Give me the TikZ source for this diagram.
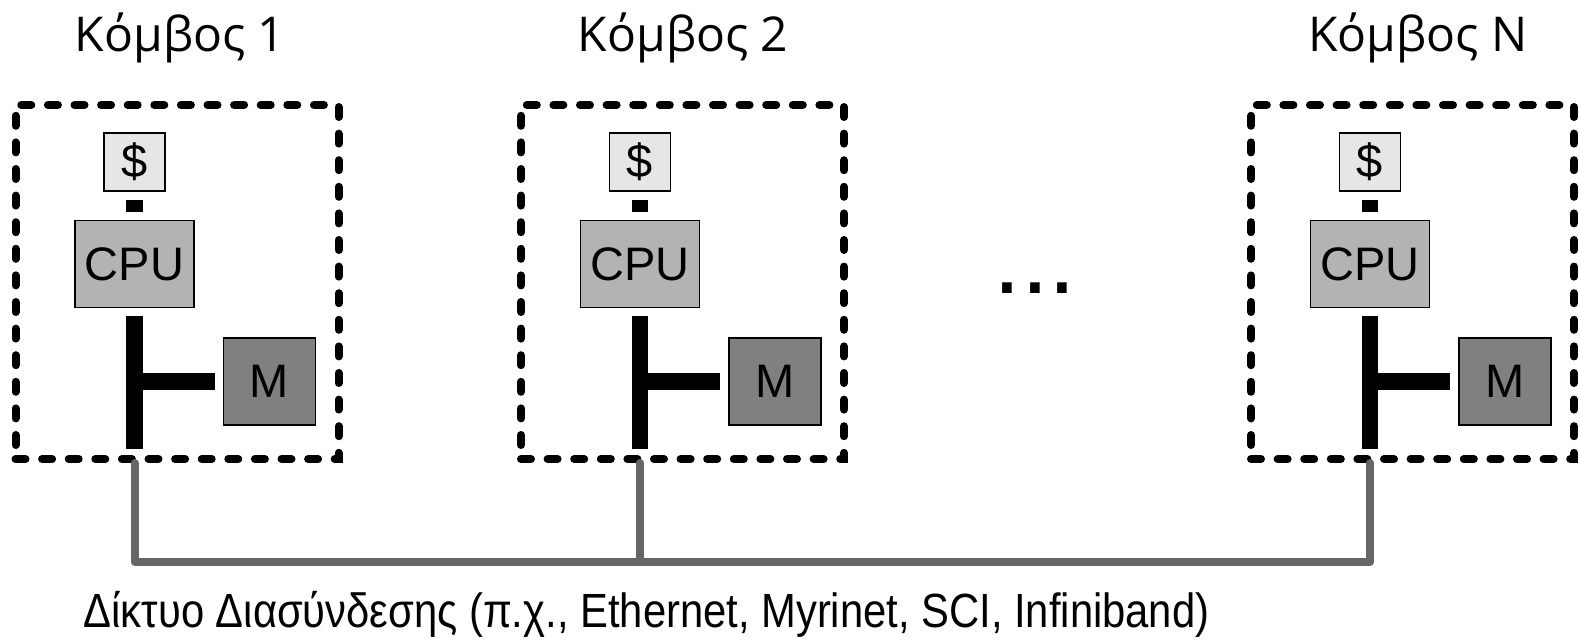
\documentclass[tikz,border=0pt]{standalone}
\usepackage{fontspec}
\setmainfont{Liberation Sans}
\newfontfamily\titlefont{Open Sans}
\newfontfamily\netfont[FakeStretch=0.87]{Liberation Sans}
\usetikzlibrary{positioning}

\definecolor{cachegray}{HTML}{E6E6E6}
\definecolor{cpugray}{HTML}{B3B3B3}
\definecolor{memgray}{HTML}{808080}
\definecolor{netgray}{HTML}{666666}

\tikzset{
  unit/.style={draw=black,line width=0.7pt,inner sep=0pt,
    font=\fontsize{23.5}{23.5}\selectfont},
  cachebox/.style={unit,fill=cachegray,minimum width=30.5pt,minimum height=29pt},
  cpubox/.style={unit,fill=cpugray,minimum width=59.5pt,minimum height=43.5pt},
  membox/.style={unit,fill=memgray,minimum width=46pt,minimum height=43.5pt},
  nodebox/.style={draw,line width=4pt,line cap=round,
    dash pattern=on 5pt off 8.3pt,minimum width=161.5pt,minimum height=177pt,inner sep=0pt},
  title/.style={font=\titlefont\fontsize{24}{24}\selectfont,anchor=base},
  bus/.style={line width=8.3pt},
  net/.style={draw=netgray,line width=4pt,line join=round,line cap=round},
}

\begin{document}
\begin{tikzpicture}[x=0.5pt,y=-0.5pt]
  \useasboundingbox (0,0) rectangle (1580,643);
  % one box per node
  \foreach \cx/\tx/\k/\lbl in {134.5/180/1/1,640/683/2/2,1370/1418/3/N}{
    \node[nodebox] (box\k) at (\cx+42.5,282) {};
    \node[title] (title\k) at (\tx,51) {Κόμβος \lbl};
    \node[cachebox] (cache\k) at (\cx,162) {\$};
    \node[cpubox,below=14pt of cache\k] (cpu\k) {CPU};
    \node[membox] (mem\k) at (\cx+135,381.5) {M};
    \coordinate (bot\k) at (\cx,449);
    \coordinate (tap\k) at (\cx,562);
    \draw[bus] ([yshift=-4pt]cache\k.south) -- ([yshift=4pt]cpu\k.north);
    \draw[bus] ([yshift=-4pt]cpu\k.south) -- (bot\k);
    \draw[bus] ([xshift=-4pt]mem\k.west) -- (mem\k.west -| bot\k);
  }
  % interconnect
  \draw[net] (box1.south -| bot1) -- (tap1) -- (tap3) -- (box3.south -| bot3);
  \draw[net] (box2.south -| bot2) -- (tap2);
  \node[anchor=base,font=\fontsize{50}{50}\selectfont] (dots) at (1035,293) {...};
  \node[anchor=base,font=\netfont\fontsize{24}{24}\selectfont] (netlabel) at (646.5,627)
    {Δίκτυο Διασύνδεσης (π.χ., Ethernet, Myrinet, SCI, Infiniband)};
\end{tikzpicture}
\end{document}
